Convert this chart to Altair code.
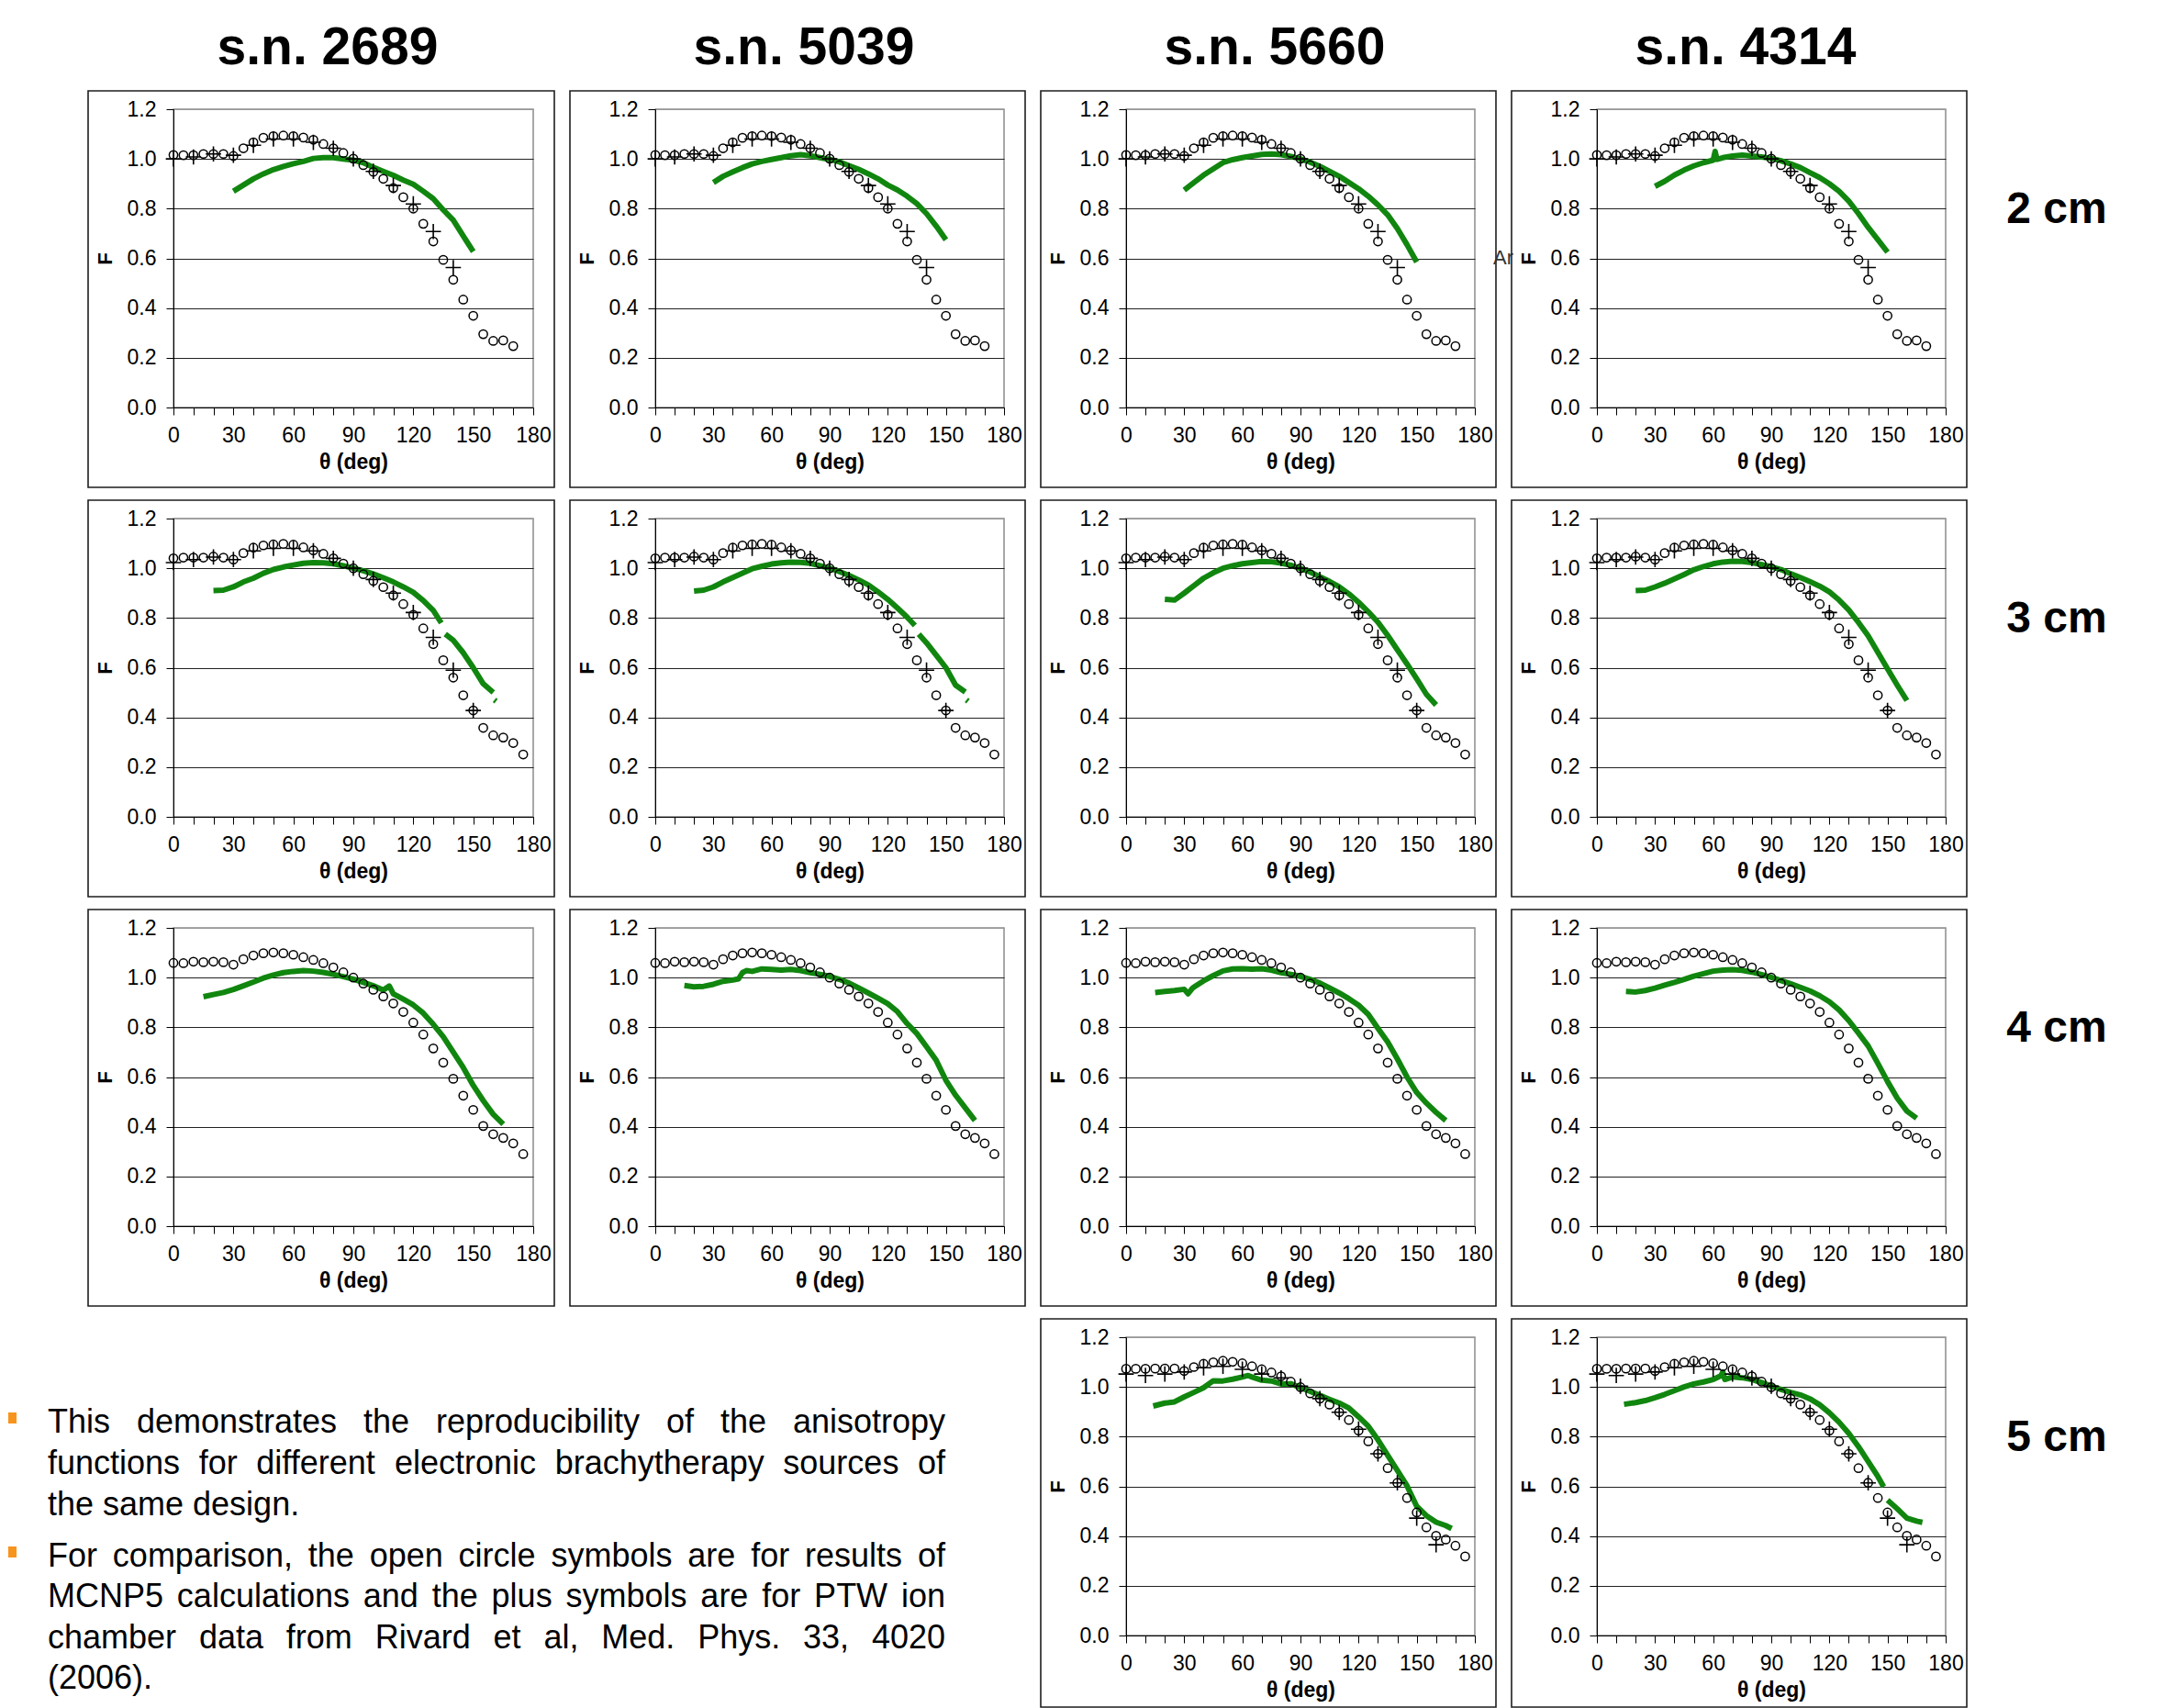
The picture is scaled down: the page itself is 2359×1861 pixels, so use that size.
import altair as alt
import pandas as pd

# ---------------- data ----------------
columns = ["s.n. 2689", "s.n. 5039", "s.n. 5660", "s.n. 4314"]
rows = ["2 cm", "3 cm", "4 cm", "5 cm"]

# MCNP5 (open circles), theta every 5 deg
mc_theta_2cm = list(range(0, 171, 5))
mc_2cm = [1.016, 1.015, 1.015, 1.02, 1.02, 1.02, 1.012, 1.043, 1.067, 1.085,
          1.092, 1.094, 1.092, 1.086, 1.077, 1.06, 1.043, 1.024, 1.001, 0.975,
          0.948, 0.92, 0.883, 0.846, 0.80, 0.739, 0.668, 0.594, 0.514, 0.434,
          0.369, 0.295, 0.268, 0.27, 0.247]
mc_theta = list(range(0, 176, 5))
mc_3cm = [1.04, 1.043, 1.043, 1.043, 1.047, 1.043, 1.035, 1.061, 1.083, 1.092,
          1.096, 1.098, 1.095, 1.084, 1.072, 1.058, 1.04, 1.019, 1.0, 0.976,
          0.949, 0.924, 0.891, 0.856, 0.813, 0.758, 0.695, 0.63, 0.56, 0.489,
          0.428, 0.358, 0.328, 0.319, 0.297, 0.251]
mc_4cm = [1.059, 1.058, 1.064, 1.062, 1.064, 1.062, 1.052, 1.074, 1.089, 1.098,
          1.101, 1.098, 1.092, 1.082, 1.071, 1.058, 1.041, 1.021, 1.0, 0.976,
          0.951, 0.924, 0.896, 0.862, 0.819, 0.771, 0.715, 0.658, 0.593, 0.525,
          0.468, 0.403, 0.37, 0.355, 0.333, 0.29]
mc_5cm = [1.073, 1.073, 1.073, 1.074, 1.074, 1.074, 1.064, 1.08, 1.093, 1.099,
          1.105, 1.101, 1.095, 1.083, 1.071, 1.058, 1.043, 1.021, 0.999, 0.974,
          0.953, 0.929, 0.898, 0.867, 0.824, 0.781, 0.731, 0.673, 0.614, 0.553,
          0.495, 0.435, 0.401, 0.386, 0.361, 0.318]

# PTW ion chamber (plus symbols)
ptw_theta_2cm = list(range(0, 141, 10))
ptw_2cm = [1.0, 1.008, 1.02, 1.015, 1.055, 1.08, 1.08, 1.067, 1.043, 1.0,
           0.95, 0.893, 0.819, 0.708, 0.563]
ptw_theta_3cm = list(range(0, 151, 10))
ptw_3cm = [1.023, 1.035, 1.045, 1.035, 1.07, 1.08, 1.08, 1.07, 1.04, 1.0,
           0.955, 0.9, 0.822, 0.722, 0.59, 0.428]
ptw_theta_5cm = list(range(0, 161, 10))
ptw_5cm = [1.052, 1.046, 1.052, 1.06, 1.077, 1.083, 1.071, 1.052, 1.036, 1.003,
           0.953, 0.898, 0.83, 0.731, 0.614, 0.472, 0.365]

# measured (green) curves
g_t_30_150 = list(range(30, 151, 5))
g2_2689 = [0.87, 0.895, 0.92, 0.94, 0.957, 0.97, 0.981, 0.99, 1.002, 1.005, 1.005, 1.0, 0.995,
           0.985, 0.966, 0.95, 0.934, 0.915, 0.898, 0.87, 0.84, 0.795, 0.754, 0.69, 0.627]
g2_5039 = [0.905, 0.93, 0.948, 0.965, 0.98, 0.99, 0.998, 1.005, 1.013, 1.017, 1.013, 1.005, 0.998,
           0.988, 0.973, 0.958, 0.94, 0.92, 0.895, 0.875, 0.85, 0.82, 0.78, 0.73, 0.675]
g2_5660 = [0.875, 0.905, 0.935, 0.96, 0.985, 0.997, 1.005, 1.012, 1.018, 1.02, 1.017, 1.01, 1.0,
           0.987, 0.97, 0.95, 0.93, 0.905, 0.88, 0.85, 0.815, 0.775, 0.72, 0.655, 0.585]
g2_4314_t = [30, 35, 40, 45, 50, 55, 60, 61, 62, 65, 70, 75, 80, 85, 90, 95, 100, 105, 110,
             115, 120, 125, 130, 135, 140, 145, 150]
g2_4314 = [0.89, 0.91, 0.935, 0.955, 0.972, 0.985, 0.995, 1.03, 0.998, 1.005, 1.012, 1.015,
           1.012, 1.008, 1.002, 0.993, 0.98, 0.965, 0.945, 0.925, 0.9, 0.87, 0.83, 0.78,
           0.725, 0.675, 0.625]

g3_gap_t = [20, 25, 30, 35, 40, 45, 50, 55, 60, 65, 70, 75, 80, 85, 90, 95, 100, 105, 110,
            115, 120, 125, 130, 134, 136, 140, 145, 150, 155, 160, 160.6, 161.4]
g3_gap_breaks = [135, 160.3]
g3_2689 = [0.91, 0.912, 0.925, 0.945, 0.96, 0.98, 0.995, 1.005, 1.013, 1.02, 1.023, 1.022,
           1.018, 1.01, 1.0, 0.99, 0.977, 0.962, 0.945, 0.925, 0.903, 0.87, 0.83, 0.78,
           0.735, 0.71, 0.66, 0.6, 0.535, 0.5, 0.47, 0.465]
g3_5039 = [0.908, 0.912, 0.925, 0.945, 0.963, 0.98, 0.998, 1.008, 1.017, 1.022, 1.025, 1.024,
           1.02, 1.01, 1.0, 0.987, 0.971, 0.953, 0.933, 0.905, 0.875, 0.84, 0.803, 0.77,
           0.735, 0.7, 0.65, 0.6, 0.53, 0.502, 0.47, 0.465]
g_t_20_160 = list(range(20, 161, 5))
g3_5660 = [0.875, 0.872, 0.9, 0.93, 0.96, 0.982, 1.0, 1.01, 1.018, 1.023, 1.027, 1.026, 1.021,
           1.012, 0.999, 0.985, 0.966, 0.947, 0.925, 0.897, 0.863, 0.825, 0.783, 0.73, 0.672,
           0.615, 0.555, 0.493, 0.45]
g3_4314 = [0.91, 0.912, 0.925, 0.94, 0.957, 0.975, 0.994, 1.007, 1.018, 1.025, 1.028, 1.027,
           1.023, 1.015, 1.006, 0.995, 0.978, 0.963, 0.946, 0.928, 0.905, 0.872, 0.832, 0.782,
           0.728, 0.662, 0.595, 0.53, 0.468]

g4_2689_t = [15, 20, 25, 30, 35, 40, 45, 50, 55, 60, 65, 70, 75, 80, 85, 90, 95, 100, 105, 108,
             110, 115, 120, 125, 130, 135, 140, 145, 150, 155, 160, 165]
g4_2689 = [0.923, 0.932, 0.94, 0.952, 0.967, 0.982, 0.998, 1.01, 1.02, 1.025, 1.028, 1.026,
           1.021, 1.013, 1.004, 0.994, 0.981, 0.967, 0.95, 0.966, 0.935, 0.913, 0.89, 0.857,
           0.812, 0.762, 0.7, 0.638, 0.566, 0.505, 0.45, 0.41]
g4_5039_t = [15, 20, 25, 30, 35, 40, 43, 45, 47, 50, 55, 60, 65, 70, 75, 80, 85, 90, 95, 100,
             105, 110, 115, 120, 125, 130, 135, 140, 145, 150, 155, 160, 165]
g4_5039 = [0.968, 0.963, 0.965, 0.973, 0.985, 0.99, 0.995, 1.02, 1.028, 1.025, 1.035, 1.033,
           1.03, 1.033, 1.028, 1.02, 1.013, 1.005, 0.993, 0.978, 0.958, 0.938, 0.917, 0.895,
           0.863, 0.815, 0.775, 0.722, 0.667, 0.587, 0.527, 0.476, 0.425]
g4_5660_t = [15, 20, 25, 30, 32, 34, 35, 40, 45, 50, 55, 60, 65, 70, 75, 80, 85, 90, 95, 100,
             105, 110, 115, 120, 125, 130, 135, 140, 145, 150, 155, 160, 165]
g4_5660 = [0.94, 0.944, 0.948, 0.953, 0.935, 0.955, 0.962, 0.987, 1.008, 1.027, 1.035, 1.036,
           1.034, 1.036, 1.03, 1.02, 1.013, 1.005, 0.993, 0.978, 0.958, 0.938, 0.915, 0.889,
           0.852, 0.796, 0.741, 0.673, 0.6, 0.538, 0.495, 0.458, 0.425]
g_t_15_165 = list(range(15, 166, 5))
g4_4314 = [0.944, 0.942, 0.948, 0.958, 0.97, 0.981, 0.993, 1.006, 1.016, 1.026, 1.03, 1.032,
           1.029, 1.022, 1.012, 1.001, 0.988, 0.975, 0.961, 0.946, 0.927, 0.903, 0.87, 0.827,
           0.777, 0.725, 0.655, 0.582, 0.515, 0.463, 0.434]

g5_5660_t = [14, 20, 25, 30, 35, 40, 45, 50, 55, 60, 63, 65, 70, 75, 80, 85, 90, 95, 100, 105,
             110, 115, 120, 125, 130, 135, 140, 145, 150, 155, 160, 165, 168]
g5_5660 = [0.923, 0.935, 0.94, 0.96, 0.978, 0.997, 1.025, 1.024, 1.031, 1.04, 1.046, 1.04,
           1.027, 1.024, 1.012, 1.013, 0.997, 0.982, 0.966, 0.95, 0.935, 0.915, 0.88, 0.842,
           0.787, 0.725, 0.664, 0.602, 0.52, 0.482, 0.456, 0.442, 0.43]
g5_4314_t = [14, 20, 25, 30, 35, 40, 45, 50, 55, 60, 64, 65, 66, 70, 75, 80, 85, 90, 95, 100,
             105, 110, 115, 120, 125, 130, 135, 140, 145, 148, 150, 155, 160, 165, 168]
g5_4314_breaks = [149]
g5_4314 = [0.93, 0.937, 0.945, 0.957, 0.97, 0.985, 1.0, 1.012, 1.02, 1.03, 1.045, 1.06, 1.03,
           1.04, 1.037, 1.03, 1.018, 1.003, 0.99, 0.978, 0.968, 0.952, 0.928, 0.896, 0.858,
           0.813, 0.76, 0.7, 0.64, 0.598, 0.545, 0.51, 0.472, 0.46, 0.455]

x_ticks = list(range(0, 181, 10))
y_ticks = [0.0, 0.2, 0.4, 0.6, 0.8, 1.0, 1.2]

para1 = ["This demonstrates the reproducibility of the anisotropy",
         "functions for different electronic brachytherapy sources of",
         "the same design."]
para2 = ["For comparison, the open circle symbols are for results of",
         "MCNP5 calculations and the plus symbols are for PTW ion",
         "chamber data from Rivard et al, Med. Phys. 33, 4020",
         "(2006)."]

# ---------------- styling ----------------
FONT = "Liberation Sans"
GREEN = "#11860f"
H = 325
W1, W = 392, 380
ONE = pd.DataFrame({"k": [0]})

xs = alt.Scale(domain=[0, 180], nice=False, zero=False)
ys = alt.Scale(domain=[0, 1.2], nice=False)
x_axis = alt.Axis(values=x_ticks, labelExpr="datum.value % 30 == 0 ? datum.label : ''",
                  title="θ (deg)", grid=False, tickSize=8, tickColor="#000", domainColor="#000",
                  labelFontSize=23, labelFont=FONT, labelColor="#000", labelPadding=11,
                  labelOverlap=False, labelFlush=False, titleFont=FONT, titleFontSize=23,
                  titleFontWeight="bold", titleColor="#000", titlePadding=6)
y_axis = alt.Axis(values=y_ticks, format=".1f", title="F", tickSize=8, tickColor="#000",
                  domainColor="#000", labelFontSize=23, labelFont=FONT, labelColor="#000",
                  labelPadding=11, labelOverlap=False, labelFlush=False, titleFont=FONT,
                  titleFontSize=22, titleFontWeight="bold", titleColor="#000", titlePadding=12,
                  grid=True, gridWidth=1,
                  gridColor={"condition": {"test": "datum.value > 1.1", "value": "#999999"},
                             "value": "#222222"})

# Arial / Liberation Sans advance widths (1/1000 em) used to justify the notes
ARIAL_W = {" ": 278, ",": 278, ".": 278, "(": 333, ")": 333, "0": 556, "1": 556, "2": 556,
           "3": 556, "4": 556, "5": 556, "6": 556, "7": 556, "8": 556, "9": 556,
           "C": 722, "F": 611, "M": 833, "N": 722, "P": 667, "R": 722, "T": 611, "W": 944,
           "a": 556, "b": 556, "c": 500, "d": 556, "e": 556, "f": 278, "g": 556, "h": 556,
           "i": 222, "j": 222, "k": 500, "l": 222, "m": 833, "n": 556, "o": 556, "p": 556,
           "q": 556, "r": 333, "s": 500, "t": 278, "u": 556, "v": 500, "w": 722, "x": 500,
           "y": 500, "z": 500}


def text_width(s, fs):
    return sum(ARIAL_W.get(c, 556) for c in s) * fs / 1000.0


def segs(t, breaks):
    return [sum(1 for b in breaks if b < v) for v in t]


def panel(mc_t, mc_f, ptw_t, ptw_f, g_t, g_f, breaks, w, title=None, frame_bottom=87,
          stray=None):
    frame = alt.Chart(ONE).mark_rect(fillOpacity=0, stroke="#1e1e1e", strokeWidth=1.6).encode(
        x=alt.value(-93), x2=alt.value(w + 23), y=alt.value(-20), y2=alt.value(H + frame_bottom))
    gdf = pd.DataFrame({"theta": g_t, "F": g_f, "seg": segs(g_t, breaks)})
    green = alt.Chart(gdf).mark_line(color=GREEN, strokeWidth=6, strokeJoin="round").encode(
        x=alt.X("theta:Q", scale=xs, axis=x_axis),
        y=alt.Y("F:Q", scale=ys, axis=y_axis),
        detail="seg:N")
    layers = [frame, green]
    mdf = pd.DataFrame({"theta": mc_t, "F": mc_f})
    layers.append(alt.Chart(mdf).mark_point(shape="circle", filled=False, color="#000",
                                            size=85, strokeWidth=1.5, opacity=1).encode(
        x=alt.X("theta:Q", scale=xs, axis=x_axis), y=alt.Y("F:Q", scale=ys, axis=y_axis)))
    if ptw_t:
        pdf = pd.DataFrame({"theta": ptw_t, "F": ptw_f})
        layers.append(alt.Chart(pdf).mark_point(shape="M-1,0L1,0M0,-1L0,1", filled=False,
                                                color="#000", size=280, strokeWidth=1.6,
                                                opacity=1).encode(
            x=alt.X("theta:Q", scale=xs, axis=x_axis), y=alt.Y("F:Q", scale=ys, axis=y_axis)))
    if stray:
        layers.append(alt.Chart(ONE).mark_text(text=stray, fontSize=22, font=FONT, align="left",
                                               baseline="middle", color="#333").encode(
            x=alt.value(w + 20), y=alt.value(162)))
    ch = alt.layer(*layers).properties(width=w, height=H)
    if title:
        ch = ch.properties(title=alt.TitleParams(title, fontSize=57, font=FONT,
                                                 fontWeight="bold", color="#000",
                                                 anchor="middle", offset=16, dx=-28))
    return ch


def row_label(text):
    return alt.Chart(ONE).mark_text(text=text, fontSize=48, font=FONT, fontWeight="bold",
                                    align="center", baseline="middle", color="#000").encode(
        x=alt.value(-12), y=alt.value(110)).properties(
        width=20, height=H, view=alt.ViewBackground(stroke="transparent"))


def justified_words(lines, justify_last, y0, dy, left, right, fs):
    recs = []
    for i, line in enumerate(lines):
        words = line.split(" ")
        widths = [text_width(wd, fs) for wd in words]
        last = i == len(lines) - 1
        if len(words) > 1 and (not last or justify_last):
            gap = (right - left - sum(widths)) / (len(words) - 1)
        else:
            gap = text_width(" ", fs)
        x = left
        for wd, ww in zip(words, widths):
            recs.append({"word": wd, "px": x, "py": y0 + dy * i})
            x += ww + gap
    return pd.DataFrame(recs)


def text_cell():
    fs = 36
    left, right = -137, 841
    df = pd.concat([justified_words(para1, False, 93, 45, left, right, fs),
                    justified_words(para2, False, 239, 44.3, left, right, fs)])
    words = alt.Chart(df).mark_text(fontSize=fs, font=FONT, align="left", baseline="middle",
                                    color="#000").encode(
        x=alt.X("px:Q", scale=None), y=alt.Y("py:Q", scale=None), text="word:N")
    layers = [words]
    for yb in (88, 234):
        layers.append(alt.Chart(ONE).mark_rect(color="#f7941d").encode(
            x=alt.value(-180), x2=alt.value(-171), y=alt.value(yb - 6), y2=alt.value(yb + 6)))
    return alt.layer(*layers).properties(width=W1, height=H,
                                         view=alt.ViewBackground(stroke="transparent"))


def blank_cell():
    return alt.Chart(ONE).mark_point(opacity=0).encode(x=alt.value(0), y=alt.value(0)).properties(
        width=W, height=H, view=alt.ViewBackground(stroke="transparent"))


cells = [
    panel(mc_theta_2cm, mc_2cm, ptw_theta_2cm, ptw_2cm, g_t_30_150, g2_2689, [], W1, columns[0]),
    panel(mc_theta_2cm, mc_2cm, ptw_theta_2cm, ptw_2cm, g_t_30_150, g2_5039, [], W, columns[1]),
    panel(mc_theta_2cm, mc_2cm, ptw_theta_2cm, ptw_2cm, g_t_30_150, g2_5660, [], W, columns[2],
          stray="Ar"),
    panel(mc_theta_2cm, mc_2cm, ptw_theta_2cm, ptw_2cm, g2_4314_t, g2_4314, [], W, columns[3]),
    row_label(rows[0]),
    panel(mc_theta, mc_3cm, ptw_theta_3cm, ptw_3cm, g3_gap_t, g3_2689, g3_gap_breaks, W1),
    panel(mc_theta, mc_3cm, ptw_theta_3cm, ptw_3cm, g3_gap_t, g3_5039, g3_gap_breaks, W),
    panel(mc_theta, mc_3cm, ptw_theta_3cm, ptw_3cm, g_t_20_160, g3_5660, [], W),
    panel(mc_theta, mc_3cm, ptw_theta_3cm, ptw_3cm, g_t_20_160, g3_4314, [], W),
    row_label(rows[1]),
    panel(mc_theta, mc_4cm, None, None, g4_2689_t, g4_2689, [], W1),
    panel(mc_theta, mc_4cm, None, None, g4_5039_t, g4_5039, [], W),
    panel(mc_theta, mc_4cm, None, None, g4_5660_t, g4_5660, [], W),
    panel(mc_theta, mc_4cm, None, None, g_t_15_165, g4_4314, [], W),
    row_label(rows[2]),
    text_cell(),
    blank_cell(),
    panel(mc_theta, mc_5cm, ptw_theta_5cm, ptw_5cm, g5_5660_t, g5_5660, [], W, frame_bottom=78),
    panel(mc_theta, mc_5cm, ptw_theta_5cm, ptw_5cm, g5_4314_t, g5_4314, g5_4314_breaks, W,
          frame_bottom=78),
    row_label(rows[3]),
]

chart = alt.concat(*cells, columns=5, spacing={"row": 121, "column": 133},
                   bounds="flush", align="each").properties(
    padding={"left": 8, "top": 23, "right": 0, "bottom": 0},
    background="white",
).configure_view(stroke="#8c8c8c", strokeWidth=1.5)

chart.save("out.html", embed_options={"renderer": "svg", "actions": False})
